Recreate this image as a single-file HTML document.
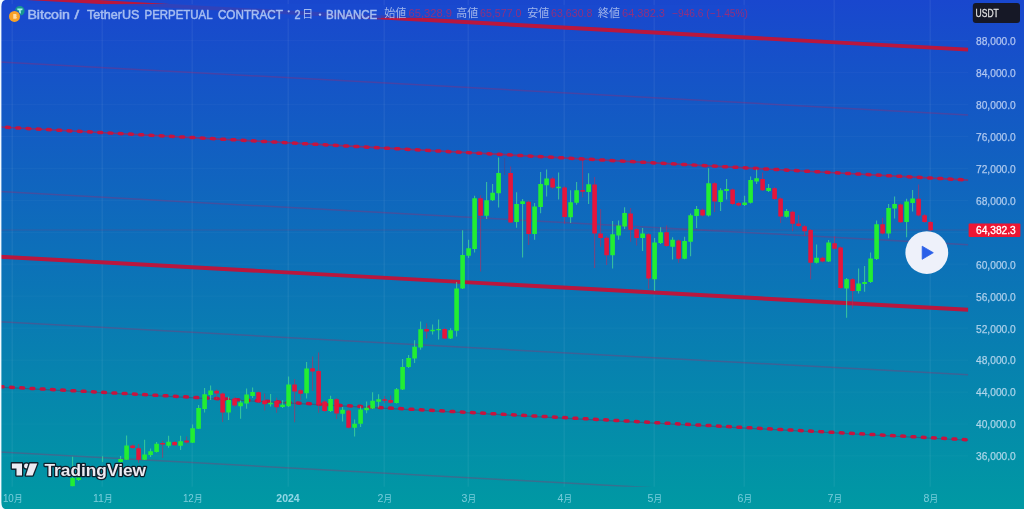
<!DOCTYPE html>
<html><head><meta charset="utf-8"><title>BTCUSDT chart</title>
<style>
html,body{margin:0;padding:0;}
body{width:1024px;height:509px;overflow:hidden;background:#1456c4;font-family:"Liberation Sans",sans-serif;}
#chart{position:absolute;left:0;top:0;width:1024px;height:509px;display:block;}
#chart text{font-family:"Liberation Sans","Noto Sans CJK JP",sans-serif;}
</style></head><body>
<svg id="chart" width="1024" height="509" viewBox="0 0 1024 509">
<defs>
<linearGradient id="bg" x1="0" y1="0" x2="0" y2="1">
<stop offset="0" stop-color="#1947ce"/>
<stop offset="1" stop-color="#0099a3"/>
</linearGradient>
<mask id="full"><rect x="0" y="0" width="1024" height="509" fill="#fff"/></mask>
<clipPath id="pane"><rect x="0" y="0" width="968.3" height="486.8"/></clipPath>
</defs>
<rect width="1024" height="509" fill="url(#bg)"/>
<path d="M12.2 0V486.8 M102.2 0V486.8 M192.2 0V486.8 M288.2 0V486.8 M384.2 0V486.8 M468.2 0V486.8 M564.2 0V486.8 M654.2 0V486.8 M744.2 0V486.8 M834.2 0V486.8 M930.2 0V486.8" stroke="#ffffff" stroke-opacity="0.055" stroke-width="1.5" fill="none"/>
<path d="M0 40.6H968.3 M0 72.5H968.3 M0 104.5H968.3 M0 136.4H968.3 M0 168.4H968.3 M0 200.3H968.3 M0 232.3H968.3 M0 264.2H968.3 M0 296.2H968.3 M0 328.2H968.3 M0 360.1H968.3 M0 392.1H968.3 M0 424.0H968.3 M0 455.9H968.3" stroke="#ffffff" stroke-opacity="0.028" stroke-width="1.2" fill="none"/>
<g><g clip-path="url(#pane)" fill="none">
<path d="M-2 61.79L968.3 114.96 M-2 191.49L968.3 244.66 M-2 321.69L968.3 374.86 M-2 451.89L968.3 505.06" stroke="#b02060" stroke-opacity="0.32" stroke-width="1.5"/>
<path d="M-2 -3.51L968.3 49.66 M-2 256.59L968.3 309.76" stroke="#b9173e" stroke-width="3.9"/>
<path d="M-2 126.89L968.3 180.06" stroke="#c5143f" stroke-width="1.7" stroke-opacity="0.6"/>
<path d="M-2 126.89L968.3 180.06" stroke="#c5143f" stroke-width="3.5" stroke-dasharray="2.8 7.46" stroke-dashoffset="1.66" stroke-linecap="round"/>
<path d="M-2 387.09L968.3 440.26" stroke="#5a3050" stroke-width="1.2" stroke-opacity="0.45"/>
<path d="M-2 386.59L968.3 439.76" stroke="#c5143f" stroke-width="3.5" stroke-dasharray="2.8 7.46" stroke-dashoffset="8.0" stroke-linecap="round"/>
</g>
<path d="M0 230H968.3" stroke="#c02050" stroke-opacity="0.2" stroke-width="1.2" fill="none"/>
<g clip-path="url(#pane)">
<path d="M72.6 456.8V486.3 M78.6 476.5V481.0 M102.6 456.2V462 M120.6 456.0V462.5 M126.6 435.6V459.7 M144.6 439.7V460.0 M150.6 448.4V457.0 M156.6 442.0V452.5 M168.6 435.8V447.7 M180.6 435.8V450.0 M192.6 424.5V443.0 M198.6 405.0V429.0 M204.6 388.0V412.5 M210.6 385.4V400.0 M228.6 396.8V420.0 M240.6 400.5V418.8 M246.6 388.6V408.7 M252.6 387.5V398.0 M270.6 394.0V406.5 M282.6 400.3V408.0 M288.6 376.4V407.0 M306.6 362.0V398.4 M330.6 395.8V412.0 M342.6 407.0V421.5 M354.6 419.4V436.4 M360.6 406.2V427.0 M366.6 401.6V413.3 M372.6 392.2V409.0 M378.6 394.2V407.4 M396.6 388.0V403.5 M402.6 359.0V390.0 M408.6 355.0V368.0 M414.6 340.3V363.0 M420.6 321.4V349.7 M432.6 324.5V334.6 M438.6 319.5V339.6 M450.6 328.3V339.0 M456.6 282.0V336.5 M462.6 230.3V289.0 M468.6 239.7V258.0 M474.6 195.7V252.6 M486.6 182.1V219.0 M492.6 184.0V201.0 M498.6 157.6V207.6 M516.6 192.3V227.7 M522.6 199.0V257.6 M534.6 203.0V239.7 M540.6 172.0V213.3 M546.6 169.6V196.5 M558.6 172.6V199.6 M570.6 190.3V222.9 M576.6 182.0V204.7 M588.6 173.3V204.0 M612.6 221.0V268.5 M618.6 220.4V239.8 M624.6 207.2V229.0 M642.6 227.9V251.0 M654.6 238.0V291.0 M660.6 227.3V244.0 M672.6 237.3V259.6 M684.6 236.7V259.2 M690.6 213.4V256.2 M696.6 206.0V227.9 M708.6 168.2V216.5 M720.6 188.3V211.0 M726.6 178.9V199.6 M744.6 195.8V206.0 M750.6 176.4V203.5 M756.6 169.4V184.0 M768.6 183.9V192.0 M786.6 209.0V217.5 M816.6 244.4V263.5 M828.6 240.0V262.0 M846.6 278.0V317.7 M858.6 268.5V293.6 M864.6 266.0V291.7 M870.6 252.6V283.0 M876.6 220.6V260.0 M888.6 204.0V238.3 M894.6 196.6V218.4 M906.6 198.8V237.3 M912.6 190.0V211.4" stroke="#48dc96" stroke-width="1.05" stroke-opacity="0.75" fill="none"/>
<path d="M132.6 444.5V449.0 M138.6 444.0V462.8 M162.6 440.8V457.8 M174.6 441.0V446.0 M186.6 436.4V443.5 M216.6 389.5V399.0 M222.6 392.5V422.0 M234.6 397.0V407.0 M258.6 391.5V403.0 M264.6 393.4V410.5 M276.6 397.7V412.8 M294.6 378.9V422.3 M300.6 389.0V400.0 M312.6 356.4V391.0 M318.6 352.4V412.8 M324.6 400.0V412.0 M336.6 398.0V419.0 M348.6 409.5V428.5 M384.6 396.0V403.0 M390.6 395.5V403.5 M426.6 323.3V338.4 M444.6 327.5V339.0 M480.6 195.3V271.4 M510.6 166.4V223.0 M528.6 200.5V245.0 M552.6 177.0V189.0 M564.6 186.0V223.7 M582.6 160.7V197.2 M594.6 177.0V267.9 M600.6 209.0V246.8 M606.6 236.0V265.0 M630.6 207.9V241.7 M636.6 228.0V245.5 M648.6 233.0V288.7 M666.6 225.6V247.0 M678.6 239.5V262.7 M702.6 208.5V216.5 M714.6 182.0V212.0 M732.6 188.5V205.0 M738.6 202.0V206.5 M762.6 172.6V191.0 M774.6 187.0V200.0 M780.6 197.5V222.9 M792.6 210.5V231.2 M798.6 214.9V227.0 M804.6 225.0V236.0 M810.6 229.0V279.2 M822.6 256.5V262.5 M834.6 236.3V249.5 M840.6 246.5V289.0 M852.6 278.0V308.5 M882.6 217.7V234.5 M900.6 203.5V223.0 M918.6 184.4V216.5 M924.6 214.0V223.0 M930.6 221.0V231.0" stroke="#c02858" stroke-width="1.05" stroke-opacity="0.6" fill="none"/>
<path d="M504.6 158.0V175.0" stroke="#7a3060" stroke-width="1" stroke-opacity="0.4" fill="none"/>
<path d="M70.3 478.0h4.6v8.3h-4.6z M76.3 477.5h4.6v2.5h-4.6z M118.3 459.0h4.6v3.0h-4.6z M124.3 445.5h4.6v14.2h-4.6z M142.3 454.5h4.6v5.3h-4.6z M148.3 451.3h4.6v3.7h-4.6z M154.3 443.7h4.6v8.4h-4.6z M166.3 441.7h4.6v4.1h-4.6z M178.3 441.2h4.6v4.6h-4.6z M190.3 428.2h4.6v14.5h-4.6z M196.3 408.0h4.6v20.8h-4.6z M202.3 394.2h4.6v14.8h-4.6z M208.3 390.5h4.6v4.4h-4.6z M226.3 400.0h4.6v12.5h-4.6z M238.3 402.4h4.6v3.8h-4.6z M244.3 394.6h4.6v8.8h-4.6z M250.3 392.0h4.6v4.0h-4.6z M268.3 402.8h4.6v1.4h-4.6z M280.3 404.7h4.6v2.3h-4.6z M286.3 384.5h4.6v21.8h-4.6z M304.3 368.5h4.6v24.8h-4.6z M328.3 399.0h4.6v12.0h-4.6z M340.3 409.8h4.6v4.0h-4.6z M352.3 423.8h4.6v4.0h-4.6z M358.3 409.5h4.6v14.3h-4.6z M364.3 407.8h4.6v2.4h-4.6z M370.3 400.7h4.6v7.7h-4.6z M376.3 399.3h4.6v2.5h-4.6z M394.3 389.2h4.6v13.8h-4.6z M400.3 367.0h4.6v22.6h-4.6z M406.3 357.9h4.6v9.1h-4.6z M412.3 346.8h4.6v11.7h-4.6z M418.3 329.2h4.6v18.3h-4.6z M430.3 329.8h4.6v1.5h-4.6z M436.3 329.0h4.6v1.3h-4.6z M448.3 330.2h4.6v8.2h-4.6z M454.3 288.4h4.6v42.4h-4.6z M460.3 255.0h4.6v33.4h-4.6z M466.3 248.2h4.6v7.5h-4.6z M472.3 198.2h4.6v50.7h-4.6z M484.3 200.2h4.6v15.6h-4.6z M490.3 192.8h4.6v7.4h-4.6z M496.3 173.0h4.6v20.3h-4.6z M514.3 204.0h4.6v18.0h-4.6z M520.3 201.3h4.6v2.7h-4.6z M532.3 206.4h4.6v27.6h-4.6z M538.3 184.0h4.6v23.0h-4.6z M544.3 178.4h4.6v6.9h-4.6z M556.3 186.8h4.6v1.4h-4.6z M568.3 202.2h4.6v15.0h-4.6z M574.3 190.3h4.6v12.5h-4.6z M586.3 184.2h4.6v7.9h-4.6z M610.3 234.2h4.6v21.1h-4.6z M616.3 225.6h4.6v9.8h-4.6z M622.3 213.0h4.6v13.6h-4.6z M640.3 233.6h4.6v4.4h-4.6z M652.3 242.4h4.6v36.8h-4.6z M658.3 232.3h4.6v10.7h-4.6z M670.3 239.8h4.6v7.0h-4.6z M682.3 241.1h4.6v17.6h-4.6z M688.3 215.3h4.6v26.4h-4.6z M694.3 209.0h4.6v7.0h-4.6z M706.3 183.3h4.6v32.3h-4.6z M718.3 190.2h4.6v11.9h-4.6z M724.3 189.0h4.6v2.0h-4.6z M742.3 202.5h4.6v2.5h-4.6z M748.3 180.1h4.6v22.7h-4.6z M754.3 178.2h4.6v3.2h-4.6z M766.3 188.0h4.6v3.0h-4.6z M784.3 211.0h4.6v5.7h-4.6z M814.3 257.8h4.6v5.0h-4.6z M826.3 242.5h4.6v19.0h-4.6z M844.3 279.2h4.6v9.4h-4.6z M856.3 283.6h4.6v7.5h-4.6z M862.3 282.0h4.6v2.0h-4.6z M868.3 258.4h4.6v23.6h-4.6z M874.3 224.2h4.6v34.8h-4.6z M886.3 208.0h4.6v25.5h-4.6z M892.3 204.0h4.6v4.6h-4.6z M904.3 201.6h4.6v20.4h-4.6z M910.3 198.6h4.6v4.3h-4.6z" fill="#22ee33"/>
<path d="M130.3 445.5h4.6v2.5h-4.6z M136.3 448.2h4.6v11.5h-4.6z M160.3 443.0h4.6v1.5h-4.6z M172.3 442.0h4.6v3.2h-4.6z M184.3 440.5h4.6v2.0h-4.6z M214.3 390.8h4.6v2.8h-4.6z M220.3 393.6h4.6v18.9h-4.6z M232.3 398.4h4.6v7.2h-4.6z M256.3 392.3h4.6v9.7h-4.6z M262.3 400.4h4.6v3.8h-4.6z M274.3 401.0h4.6v6.2h-4.6z M292.3 384.5h4.6v6.9h-4.6z M298.3 390.2h4.6v3.5h-4.6z M310.3 368.2h4.6v3.4h-4.6z M316.3 371.0h4.6v33.6h-4.6z M322.3 401.5h4.6v9.5h-4.6z M334.3 399.2h4.6v14.3h-4.6z M346.3 410.5h4.6v17.3h-4.6z M382.3 399.3h4.6v1.5h-4.6z M388.3 399.9h4.6v2.8h-4.6z M424.3 329.0h4.6v2.5h-4.6z M442.3 328.9h4.6v9.5h-4.6z M478.3 198.2h4.6v17.6h-4.6z M508.3 173.0h4.6v49.5h-4.6z M526.3 201.8h4.6v32.2h-4.6z M550.3 178.4h4.6v9.2h-4.6z M562.3 187.6h4.6v29.4h-4.6z M580.3 190.0h4.6v1.8h-4.6z M592.3 184.6h4.6v49.0h-4.6z M598.3 233.6h4.6v4.4h-4.6z M604.3 237.7h4.6v17.6h-4.6z M628.3 213.4h4.6v16.4h-4.6z M634.3 229.2h4.6v8.8h-4.6z M646.3 234.2h4.6v44.4h-4.6z M664.3 232.3h4.6v13.8h-4.6z M676.3 240.5h4.6v18.2h-4.6z M700.3 209.7h4.6v5.9h-4.6z M712.3 183.3h4.6v18.2h-4.6z M730.3 189.6h4.6v14.4h-4.6z M736.3 203.0h4.6v2.5h-4.6z M760.3 178.9h4.6v11.3h-4.6z M772.3 188.3h4.6v10.7h-4.6z M778.3 198.4h4.6v18.1h-4.6z M790.3 211.7h4.6v12.0h-4.6z M796.3 223.5h4.6v2.5h-4.6z M802.3 226.2h4.6v5.0h-4.6z M808.3 230.0h4.6v32.8h-4.6z M820.3 257.8h4.6v3.7h-4.6z M832.3 243.2h4.6v5.6h-4.6z M838.3 247.6h4.6v40.4h-4.6z M850.3 279.2h4.6v11.9h-4.6z M880.3 224.2h4.6v9.3h-4.6z M898.3 204.6h4.6v17.6h-4.6z M916.3 198.8h4.6v16.6h-4.6z M922.3 215.2h4.6v6.9h-4.6z M928.3 222.1h4.6v8.2h-4.6z" fill="#e5153b"/>
</g></g>
<rect x="3" y="4" width="378" height="14.5" fill="#1a49cf" fill-opacity="0.86"/>
<rect x="381" y="5" width="368" height="13" fill="#1a49cf" fill-opacity="0.75"/>
<g mask="url(#full)">
<circle cx="19.8" cy="10.9" r="4.8" fill="#17968f"/>
<path d="M17.2 8.6h5.4l-0.3 1.6h-1.6l0.2 3.4h-1.9l0.2-3.4h-1.7z" fill="#a8f4ee"/>
<circle cx="14.5" cy="16.4" r="6.3" fill="#1d4dd0"/>
<circle cx="14.5" cy="16.4" r="5.5" fill="#f7a126"/>
<path d="M13 13.6h2.2c1.2 0 1.8 0.6 1.8 1.4c0 0.6-0.3 1-0.8 1.2c0.7 0.2 1.1 0.7 1.1 1.4c0 1-0.8 1.6-2 1.6H13z" fill="#fff2d8" fill-opacity="0.7" transform="translate(2.2,2.5) scale(0.85)"/>
<text x="27.4" y="18.9" font-size="13" font-weight="normal" fill="#a9c0f2" fill-opacity="0.97" text-anchor="start" textLength="42.6" lengthAdjust="spacingAndGlyphs" stroke="#a9c0f2" stroke-width="0.55" stroke-opacity="0.9">Bitcoin</text>
<text x="74.6" y="18.9" font-size="13" font-weight="normal" fill="#a9c0f2" fill-opacity="0.97" text-anchor="start" textLength="4.6" lengthAdjust="spacingAndGlyphs" stroke="#a9c0f2" stroke-width="0.55" stroke-opacity="0.9">/</text>
<text x="87.0" y="18.9" font-size="13" font-weight="normal" fill="#a9c0f2" fill-opacity="0.97" text-anchor="start" textLength="52.4" lengthAdjust="spacingAndGlyphs" stroke="#a9c0f2" stroke-width="0.55" stroke-opacity="0.9">TetherUS</text>
<text x="144.5" y="18.9" font-size="13" font-weight="normal" fill="#a9c0f2" fill-opacity="0.97" text-anchor="start" textLength="68" lengthAdjust="spacingAndGlyphs" stroke="#a9c0f2" stroke-width="0.55" stroke-opacity="0.9">PERPETUAL</text>
<text x="217.9" y="18.9" font-size="13" font-weight="normal" fill="#a9c0f2" fill-opacity="0.97" text-anchor="start" textLength="65" lengthAdjust="spacingAndGlyphs" stroke="#a9c0f2" stroke-width="0.55" stroke-opacity="0.9">CONTRACT</text>
<circle cx="288.7" cy="11.3" r="1.1" fill="#a9c0f2"/>
<text x="294.6" y="18.9" font-size="13" font-weight="normal" fill="#a9c0f2" fill-opacity="0.97" text-anchor="start" textLength="6" lengthAdjust="spacingAndGlyphs" stroke="#a9c0f2" stroke-width="0.55" stroke-opacity="0.9">2</text>
<text x="302.1" y="18" font-size="11.8" font-weight="normal" fill="#a9c0f2" fill-opacity="0.97" text-anchor="start" textLength="11.3" lengthAdjust="spacingAndGlyphs">日</text>
<circle cx="320" cy="14.6" r="1.2" fill="#a9c0f2"/>
<text x="326" y="18.9" font-size="13" font-weight="normal" fill="#a9c0f2" fill-opacity="0.97" text-anchor="start" textLength="51.3" lengthAdjust="spacingAndGlyphs" stroke="#a9c0f2" stroke-width="0.55" stroke-opacity="0.9">BINANCE</text>
<text x="384.3" y="16.9" font-size="11" font-weight="normal" fill="#c0cdf0" fill-opacity="0.82" text-anchor="start" textLength="22" lengthAdjust="spacingAndGlyphs">始値</text>
<text x="456.2" y="16.9" font-size="11" font-weight="normal" fill="#c0cdf0" fill-opacity="0.82" text-anchor="start" textLength="22" lengthAdjust="spacingAndGlyphs">高値</text>
<text x="527.3" y="16.9" font-size="11" font-weight="normal" fill="#c0cdf0" fill-opacity="0.82" text-anchor="start" textLength="22" lengthAdjust="spacingAndGlyphs">安値</text>
<text x="598" y="16.9" font-size="11" font-weight="normal" fill="#c0cdf0" fill-opacity="0.82" text-anchor="start" textLength="22" lengthAdjust="spacingAndGlyphs">終値</text>
<text x="408.5" y="17.2" font-size="11" font-weight="normal" fill="#e0204a" fill-opacity="0.6" text-anchor="start" textLength="43.5" lengthAdjust="spacingAndGlyphs">65,328.9</text>
<text x="480" y="17.2" font-size="11" font-weight="normal" fill="#e0204a" fill-opacity="0.6" text-anchor="start" textLength="41.5" lengthAdjust="spacingAndGlyphs">65,577.0</text>
<text x="551" y="17.2" font-size="11" font-weight="normal" fill="#e0204a" fill-opacity="0.6" text-anchor="start" textLength="41.5" lengthAdjust="spacingAndGlyphs">63,630.8</text>
<text x="622" y="17.2" font-size="11" font-weight="normal" fill="#e0204a" fill-opacity="0.6" text-anchor="start" textLength="43" lengthAdjust="spacingAndGlyphs">64,382.3</text>
<text x="672" y="17.2" font-size="11" font-weight="normal" fill="#e0204a" fill-opacity="0.6" text-anchor="start" textLength="76" lengthAdjust="spacingAndGlyphs">−946.6 (−1.45%)</text>
<rect x="972.8" y="2.9" width="47.2" height="20" rx="3" fill="#161826"/>
<text x="975.6" y="16.8" font-size="11" font-weight="normal" fill="#dedede" fill-opacity="1" text-anchor="start" textLength="23.2" lengthAdjust="spacingAndGlyphs" stroke="#dedede" stroke-width="0.35">USDT</text>
<text x="976" y="44.9" font-size="10.6" font-weight="normal" fill="#e6eeff" fill-opacity="0.66" text-anchor="start" textLength="39.8" lengthAdjust="spacingAndGlyphs" stroke="#e6eeff" stroke-width="0.25" stroke-opacity="0.6">88,000.0</text>
<text x="976" y="76.8" font-size="10.6" font-weight="normal" fill="#e6eeff" fill-opacity="0.66" text-anchor="start" textLength="39.8" lengthAdjust="spacingAndGlyphs" stroke="#e6eeff" stroke-width="0.25" stroke-opacity="0.6">84,000.0</text>
<text x="976" y="108.8" font-size="10.6" font-weight="normal" fill="#e6eeff" fill-opacity="0.66" text-anchor="start" textLength="39.8" lengthAdjust="spacingAndGlyphs" stroke="#e6eeff" stroke-width="0.25" stroke-opacity="0.6">80,000.0</text>
<text x="976" y="140.8" font-size="10.6" font-weight="normal" fill="#e6eeff" fill-opacity="0.66" text-anchor="start" textLength="39.8" lengthAdjust="spacingAndGlyphs" stroke="#e6eeff" stroke-width="0.25" stroke-opacity="0.6">76,000.0</text>
<text x="976" y="172.7" font-size="10.6" font-weight="normal" fill="#e6eeff" fill-opacity="0.66" text-anchor="start" textLength="39.8" lengthAdjust="spacingAndGlyphs" stroke="#e6eeff" stroke-width="0.25" stroke-opacity="0.6">72,000.0</text>
<text x="976" y="204.7" font-size="10.6" font-weight="normal" fill="#e6eeff" fill-opacity="0.66" text-anchor="start" textLength="39.8" lengthAdjust="spacingAndGlyphs" stroke="#e6eeff" stroke-width="0.25" stroke-opacity="0.6">68,000.0</text>
<text x="976" y="268.6" font-size="10.6" font-weight="normal" fill="#e6eeff" fill-opacity="0.66" text-anchor="start" textLength="39.8" lengthAdjust="spacingAndGlyphs" stroke="#e6eeff" stroke-width="0.25" stroke-opacity="0.6">60,000.0</text>
<text x="976" y="300.5" font-size="10.6" font-weight="normal" fill="#e6eeff" fill-opacity="0.66" text-anchor="start" textLength="39.8" lengthAdjust="spacingAndGlyphs" stroke="#e6eeff" stroke-width="0.25" stroke-opacity="0.6">56,000.0</text>
<text x="976" y="332.5" font-size="10.6" font-weight="normal" fill="#e6eeff" fill-opacity="0.66" text-anchor="start" textLength="39.8" lengthAdjust="spacingAndGlyphs" stroke="#e6eeff" stroke-width="0.25" stroke-opacity="0.6">52,000.0</text>
<text x="976" y="364.4" font-size="10.6" font-weight="normal" fill="#e6eeff" fill-opacity="0.66" text-anchor="start" textLength="39.8" lengthAdjust="spacingAndGlyphs" stroke="#e6eeff" stroke-width="0.25" stroke-opacity="0.6">48,000.0</text>
<text x="976" y="396.4" font-size="10.6" font-weight="normal" fill="#e6eeff" fill-opacity="0.66" text-anchor="start" textLength="39.8" lengthAdjust="spacingAndGlyphs" stroke="#e6eeff" stroke-width="0.25" stroke-opacity="0.6">44,000.0</text>
<text x="976" y="428.3" font-size="10.6" font-weight="normal" fill="#e6eeff" fill-opacity="0.66" text-anchor="start" textLength="39.8" lengthAdjust="spacingAndGlyphs" stroke="#e6eeff" stroke-width="0.25" stroke-opacity="0.6">40,000.0</text>
<text x="976" y="460.2" font-size="10.6" font-weight="normal" fill="#e6eeff" fill-opacity="0.66" text-anchor="start" textLength="39.8" lengthAdjust="spacingAndGlyphs" stroke="#e6eeff" stroke-width="0.25" stroke-opacity="0.6">36,000.0</text>
<rect x="968.6" y="223.6" width="51.8" height="13.4" rx="1" fill="#ee1632"/>
<text x="976" y="234.2" font-size="10.6" font-weight="normal" fill="#ffffff" fill-opacity="1" text-anchor="start" textLength="39.8" lengthAdjust="spacingAndGlyphs" stroke="#ffffff" stroke-width="0.3">64,382.3</text>
<text x="2.9" y="502.4" font-size="10.8" font-weight="normal" fill="#c8f0ff" fill-opacity="0.6" text-anchor="start" textLength="10.9" lengthAdjust="spacingAndGlyphs">10</text><text x="13.9" y="502.3" font-size="9.5" font-weight="normal" fill="#c8f0ff" fill-opacity="0.6" text-anchor="start" textLength="8.7" lengthAdjust="spacingAndGlyphs">月</text>
<text x="92.9" y="502.4" font-size="10.8" font-weight="normal" fill="#c8f0ff" fill-opacity="0.6" text-anchor="start" textLength="10.9" lengthAdjust="spacingAndGlyphs">11</text><text x="103.9" y="502.3" font-size="9.5" font-weight="normal" fill="#c8f0ff" fill-opacity="0.6" text-anchor="start" textLength="8.7" lengthAdjust="spacingAndGlyphs">月</text>
<text x="182.9" y="502.4" font-size="10.8" font-weight="normal" fill="#c8f0ff" fill-opacity="0.6" text-anchor="start" textLength="10.9" lengthAdjust="spacingAndGlyphs">12</text><text x="193.9" y="502.3" font-size="9.5" font-weight="normal" fill="#c8f0ff" fill-opacity="0.6" text-anchor="start" textLength="8.7" lengthAdjust="spacingAndGlyphs">月</text>
<text x="288.0" y="502.2" font-size="10.5" font-weight="bold" fill="#c8f0ff" fill-opacity="0.72" text-anchor="middle" textLength="23.4" lengthAdjust="spacingAndGlyphs">2024</text>
<text x="377.4" y="502.4" font-size="10.8" font-weight="normal" fill="#c8f0ff" fill-opacity="0.6" text-anchor="start" textLength="5.9" lengthAdjust="spacingAndGlyphs">2</text><text x="383.4" y="502.3" font-size="9.5" font-weight="normal" fill="#c8f0ff" fill-opacity="0.6" text-anchor="start" textLength="8.7" lengthAdjust="spacingAndGlyphs">月</text>
<text x="461.4" y="502.4" font-size="10.8" font-weight="normal" fill="#c8f0ff" fill-opacity="0.6" text-anchor="start" textLength="5.9" lengthAdjust="spacingAndGlyphs">3</text><text x="467.4" y="502.3" font-size="9.5" font-weight="normal" fill="#c8f0ff" fill-opacity="0.6" text-anchor="start" textLength="8.7" lengthAdjust="spacingAndGlyphs">月</text>
<text x="557.4" y="502.4" font-size="10.8" font-weight="normal" fill="#c8f0ff" fill-opacity="0.6" text-anchor="start" textLength="5.9" lengthAdjust="spacingAndGlyphs">4</text><text x="563.4" y="502.3" font-size="9.5" font-weight="normal" fill="#c8f0ff" fill-opacity="0.6" text-anchor="start" textLength="8.7" lengthAdjust="spacingAndGlyphs">月</text>
<text x="647.4" y="502.4" font-size="10.8" font-weight="normal" fill="#c8f0ff" fill-opacity="0.6" text-anchor="start" textLength="5.9" lengthAdjust="spacingAndGlyphs">5</text><text x="653.4" y="502.3" font-size="9.5" font-weight="normal" fill="#c8f0ff" fill-opacity="0.6" text-anchor="start" textLength="8.7" lengthAdjust="spacingAndGlyphs">月</text>
<text x="737.4" y="502.4" font-size="10.8" font-weight="normal" fill="#c8f0ff" fill-opacity="0.6" text-anchor="start" textLength="5.9" lengthAdjust="spacingAndGlyphs">6</text><text x="743.4" y="502.3" font-size="9.5" font-weight="normal" fill="#c8f0ff" fill-opacity="0.6" text-anchor="start" textLength="8.7" lengthAdjust="spacingAndGlyphs">月</text>
<text x="827.4" y="502.4" font-size="10.8" font-weight="normal" fill="#c8f0ff" fill-opacity="0.6" text-anchor="start" textLength="5.9" lengthAdjust="spacingAndGlyphs">7</text><text x="833.4" y="502.3" font-size="9.5" font-weight="normal" fill="#c8f0ff" fill-opacity="0.6" text-anchor="start" textLength="8.7" lengthAdjust="spacingAndGlyphs">月</text>
<text x="923.4" y="502.4" font-size="10.8" font-weight="normal" fill="#c8f0ff" fill-opacity="0.6" text-anchor="start" textLength="5.9" lengthAdjust="spacingAndGlyphs">8</text><text x="929.4" y="502.3" font-size="9.5" font-weight="normal" fill="#c8f0ff" fill-opacity="0.6" text-anchor="start" textLength="8.7" lengthAdjust="spacingAndGlyphs">月</text>
<circle cx="926.8" cy="252.6" r="21.4" fill="#eef1fa"/>
<path d="M922.2 246.2L933.3 252.7L922.2 259.3Z" fill="#2a5fe8" stroke="#2a5fe8" stroke-width="0.8" stroke-linejoin="round"/>
<g stroke="#0f1e2a" stroke-width="2.6" stroke-linejoin="round" paint-order="stroke" fill="#ecebf2">
<path d="M11.9 463.4H22V475.5H16.5V468.6H11.9Z"/><circle cx="26.4" cy="466" r="2.4"/><path d="M29.8 463.4H37.3L32.6 475.500H25.9Z"/></g>
<g aria-label="TradingView"><title>TradingView</title><text x="44.5" y="475.5" font-size="17" font-weight="bold" fill="#ecebf2" stroke="#0f1e2a" stroke-width="2.65" stroke-linejoin="round" paint-order="stroke" text-anchor="start" textLength="101.5" lengthAdjust="spacingAndGlyphs">TradingView</text></g>
</g>
<path d="M0 0H5C2.600 0.700 1.500 2.600 1.400 6.500V502.500C1.500 506.400 2.600 508.300 5 509H0Z" fill="#f4fbff"/>
</svg></body></html>
